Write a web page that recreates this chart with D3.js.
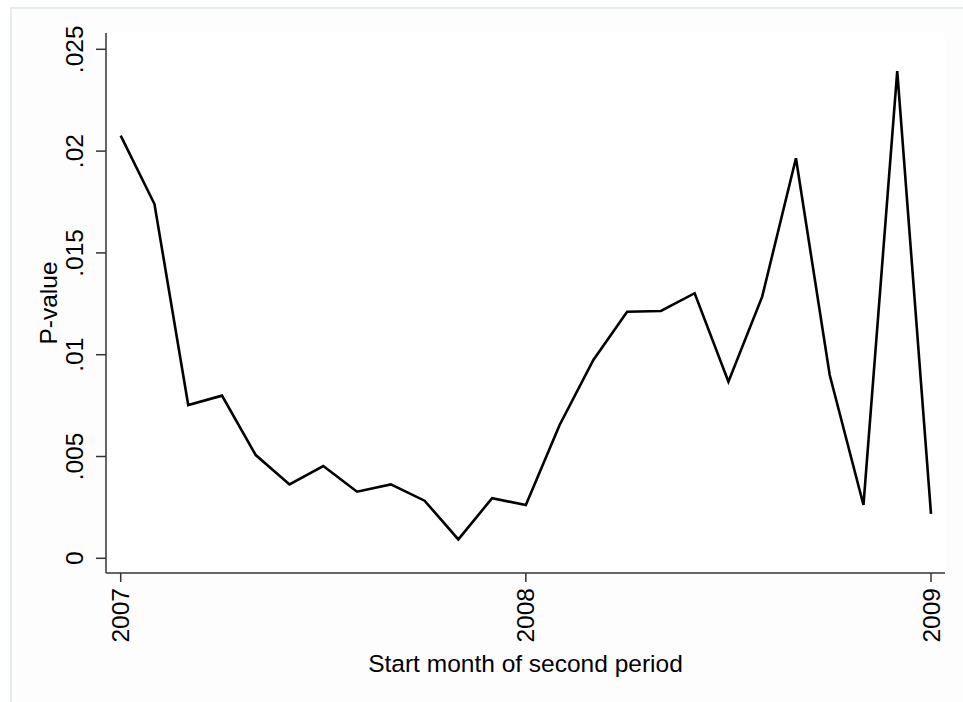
<!DOCTYPE html>
<html>
<head>
<meta charset="utf-8">
<script src="https://cdn.jsdelivr.net/npm/d3@7"></script>
<style>
  html, body { margin: 0; padding: 0; background: #ffffff; }
  svg { display: block; }
  text { font-family: "Liberation Sans", Arial, sans-serif; fill: #000; }
</style>
</head>
<body>
<svg id="chart" width="963" height="702"></svg>
<script>
// Start month of the second period (decimal year, monthly steps)
const months = [
  2007 + 0/12, 2007 + 1/12, 2007 + 2/12, 2007 + 3/12, 2007 + 4/12, 2007 + 5/12,
  2007 + 6/12, 2007 + 7/12, 2007 + 8/12, 2007 + 9/12, 2007 + 10/12, 2007 + 11/12,
  2008 + 0/12, 2008 + 1/12, 2008 + 2/12, 2008 + 3/12, 2008 + 4/12, 2008 + 5/12,
  2008 + 6/12, 2008 + 7/12, 2008 + 8/12, 2008 + 9/12, 2008 + 10/12, 2008 + 11/12,
  2009 + 0/12
];

// P-value of the test for each start month
const pValues = [
  0.02076, 0.01740, 0.00753, 0.00799, 0.00507, 0.00363,
  0.00453, 0.00327, 0.00363, 0.00283, 0.00093, 0.00295,
  0.00262, 0.00655, 0.00974, 0.01211, 0.01215, 0.01302,
  0.00867, 0.01285, 0.01965, 0.00900, 0.00262, 0.02393,
  0.00218
];

const xTicks = [2007, 2008, 2009];
const yTicks = [0, 0.005, 0.01, 0.015, 0.02, 0.025];
const yTickLabels = ["0", ".005", ".01", ".015", ".02", ".025"];

const svg = d3.select("#chart");

// outer graph region frame
svg.append("rect")
  .attr("x", 11).attr("y", 8)
  .attr("width", 980).attr("height", 720)
  .attr("fill", "#fdfdfd")
  .attr("stroke", "#e4ecec")
  .attr("stroke-width", 2);

const plot = { left: 106, right: 945, top: 33, bottom: 573 };

const x = d3.scaleLinear().domain([2007, 2009]).range([120.7, 931]);
const y = d3.scaleLinear().domain([0, 0.025]).range([558.3, 49.3]);

const axisColor = "#333";
const fontSize = 24.5;

// plot region background
svg.append("rect")
  .attr("x", plot.left).attr("y", plot.top)
  .attr("width", plot.right - plot.left).attr("height", plot.bottom - plot.top)
  .attr("fill", "#ffffff");

// y axis
const yAxis = svg.append("g").attr("transform", `translate(${plot.left},0)`);
yAxis.append("line")
  .attr("x1", 0).attr("x2", 0)
  .attr("y1", plot.top).attr("y2", plot.bottom)
  .attr("stroke", axisColor).attr("stroke-width", 1.5);
yAxis.selectAll("line.tick").data(yTicks).join("line")
  .attr("class", "tick")
  .attr("x1", -10).attr("x2", 0)
  .attr("y1", d => y(d)).attr("y2", d => y(d))
  .attr("stroke", axisColor).attr("stroke-width", 1.5);
yAxis.selectAll("text").data(yTicks).join("text")
  .attr("transform", d => `translate(-23,${y(d)}) rotate(-90)`)
  .attr("text-anchor", "middle")
  .attr("font-size", fontSize)
  .text((d, i) => yTickLabels[i]);

// x axis
const xAxis = svg.append("g").attr("transform", `translate(0,${plot.bottom})`);
xAxis.append("line")
  .attr("x1", plot.left).attr("x2", plot.right)
  .attr("y1", 0).attr("y2", 0)
  .attr("stroke", axisColor).attr("stroke-width", 1.5);
xAxis.selectAll("line.tick").data(xTicks).join("line")
  .attr("class", "tick")
  .attr("x1", d => x(d)).attr("x2", d => x(d))
  .attr("y1", 0).attr("y2", 9)
  .attr("stroke", axisColor).attr("stroke-width", 1.5);
xAxis.selectAll("text").data(xTicks).join("text")
  .attr("transform", d => `translate(${x(d)},15) rotate(-90)`)
  .attr("text-anchor", "end")
  .attr("dy", "0.35em")
  .attr("font-size", fontSize)
  .text(d => d);

// axis titles
svg.append("text")
  .attr("transform", `translate(57,${(plot.top + plot.bottom) / 2}) rotate(-90)`)
  .attr("text-anchor", "middle")
  .attr("font-size", fontSize)
  .text("P-value");

svg.append("text")
  .attr("x", (plot.left + plot.right) / 2)
  .attr("y", 672)
  .attr("text-anchor", "middle")
  .attr("font-size", fontSize)
  .text("Start month of second period");

// data line
const line = d3.line()
  .x((d, i) => x(months[i]))
  .y(d => y(d));

svg.append("path")
  .datum(pValues)
  .attr("d", line)
  .attr("fill", "none")
  .attr("stroke", "#000")
  .attr("stroke-width", 2.6)
  .attr("stroke-linejoin", "miter");
</script>
</body>
</html>
